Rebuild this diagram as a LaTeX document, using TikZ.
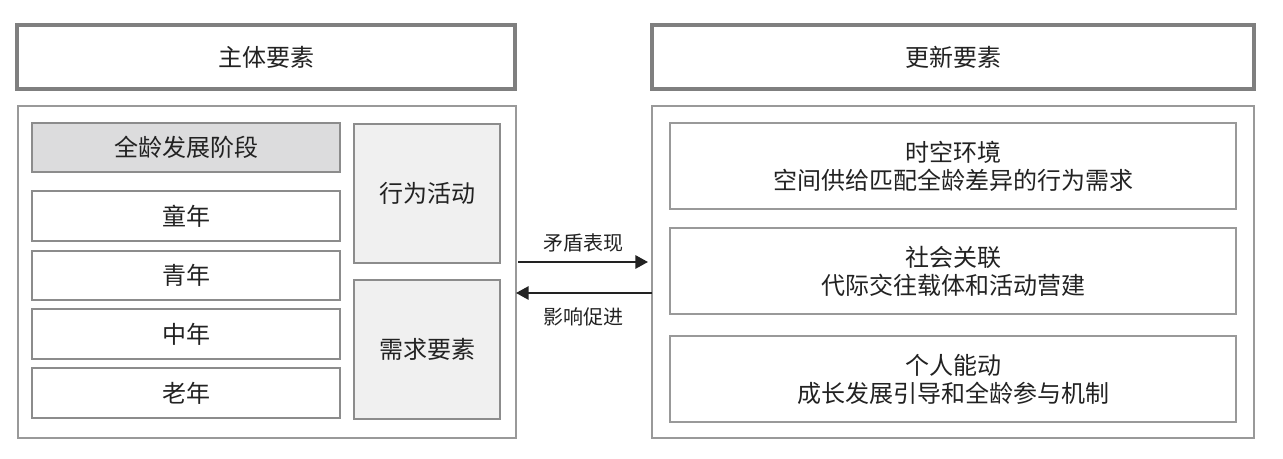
\documentclass[tikz,border=0pt]{standalone}
\usepackage{fontspec}
\newfontfamily\cjk{Noto Sans CJK SC}
\usetikzlibrary{arrows.meta}
\definecolor{txt}{HTML}{222222}
\definecolor{headline}{HTML}{7F7F7F}
\definecolor{outline}{HTML}{999999}
\definecolor{inline}{HTML}{8C8C8C}
\definecolor{stagefill}{HTML}{DCDCDD}
\definecolor{sidefill}{HTML}{F0F0F0}
\tikzset{
  base/.style={text=txt, font=\cjk\fontsize{18}{21}\selectfont, align=center, inner sep=0pt, outer sep=0pt},
  headbox/.style={base, draw=headline, line width=2.4pt, fill=white},
  outbox/.style={base, draw=outline, line width=1.5pt, fill=white},
  stagebox/.style={base, draw=inline, line width=1.5pt, fill=white},
  stagehead/.style={stagebox, fill=stagefill},
  sidebox/.style={base, draw=inline, line width=1.8pt, fill=sidefill},
  rbox/.style={base, draw=outline, line width=1.5pt, fill=white},
  arr/.style={draw=txt, line width=1.5pt, -{Triangle[length=9.5pt,width=10pt]}},
  lbl/.style={text=txt, font=\cjk\fontsize{15}{18}\selectfont, inner sep=0pt},
}
\begin{document}
\begin{tikzpicture}[x=0.75pt,y=-0.75pt]
\useasboundingbox (0,0) rectangle (1283,459);
% headers
\node[headbox, minimum width=498*0.75pt, minimum height=64*0.75pt] (topL) at (266,57) {主体要素};
\node[headbox, minimum width=602*0.75pt, minimum height=64*0.75pt] (topR) at (953,57) {更新要素};
% outer boxes
\node[outbox, minimum width=498*0.75pt, minimum height=332*0.75pt] (outL) at (267,272) {};
\node[outbox, minimum width=602*0.75pt, minimum height=332*0.75pt] (outR) at (953,272) {};
% left stage column
\node[stagehead, minimum width=308*0.75pt, minimum height=49*0.75pt] (stage) at (186,147.5) {全龄发展阶段};
\node[stagebox, minimum width=308*0.75pt, minimum height=50*0.75pt] (child) at (186,216) {童年};
\node[stagebox, minimum width=308*0.75pt, minimum height=49*0.75pt] (youth) at (186,275.5) {青年};
\node[stagebox, minimum width=308*0.75pt, minimum height=50*0.75pt] (middle) at (186,334) {中年};
\node[stagebox, minimum width=308*0.75pt, minimum height=50*0.75pt] (old) at (186,393) {老年};
% side boxes
\node[sidebox, minimum width=146*0.75pt, minimum height=139*0.75pt] (act) at (427,193.5) {行为活动};
\node[sidebox, minimum width=146*0.75pt, minimum height=139*0.75pt] (need) at (427,349.5) {需求要素};
% right boxes
\node[rbox, minimum width=566*0.75pt, minimum height=86*0.75pt] (r1) at (953,166) {时空环境\\空间供给匹配全龄差异的行为需求};
\node[rbox, minimum width=566*0.75pt, minimum height=86*0.75pt] (r2) at (953,271) {社会关联\\代际交往载体和活动营建};
\node[rbox, minimum width=566*0.75pt, minimum height=86*0.75pt] (r3) at (953,379) {个人能动\\成长发展引导和全龄参与机制};
% arrows
\draw[arr, shorten <=1.5pt, shorten >=3pt] ([yshift=7.5pt]outL.east) -- ([yshift=7.5pt]outR.west);
\draw[arr] ([yshift=-15.75pt]outR.west) -- ([yshift=-15.75pt]outL.east);
\node[lbl] (l1) at (583,243) {矛盾表现};
\node[lbl] (l2) at (583,317) {影响促进};
\end{tikzpicture}
\end{document}
